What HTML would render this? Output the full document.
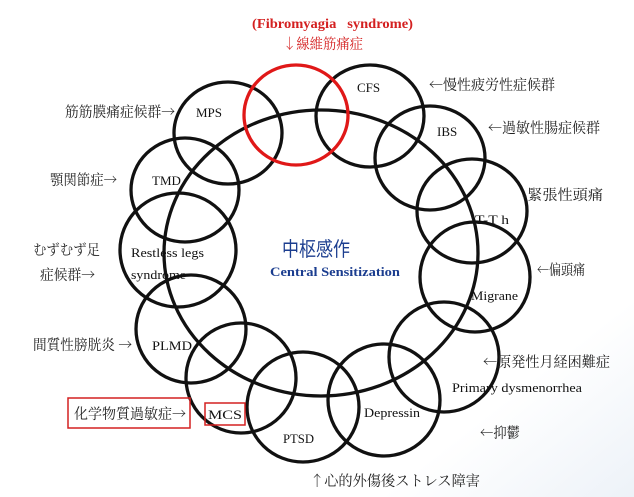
<!DOCTYPE html>
<html><head><meta charset="utf-8"><style>
html,body{margin:0;padding:0;background:#fff;}
svg{display:block;}
.j{font-family:"Noto Serif CJK SC","Noto Sans CJK JP",serif;font-size:14.5px;fill:#222;}
.e{font-family:"Liberation Serif",serif;font-size:13px;fill:#111;}
</style></head><body>
<svg width="634" height="497" viewBox="0 0 634 497" xmlns="http://www.w3.org/2000/svg">
<defs><linearGradient id="bg" x1="0" y1="0" x2="1" y2="1"><stop offset="0.8" stop-color="#fff"/><stop offset="1" stop-color="#edf2f8"/></linearGradient></defs>
<rect width="634" height="497" fill="url(#bg)"/>
<g fill="none" stroke="#111" stroke-width="3.3">
<ellipse cx="321" cy="253" rx="157" ry="143"/>
<ellipse cx="228" cy="133" rx="54" ry="51"/>
<ellipse cx="370" cy="116" rx="54" ry="51"/>
<ellipse cx="430" cy="158" rx="55" ry="52"/>
<ellipse cx="472" cy="211" rx="55" ry="52"/>
<ellipse cx="475" cy="277" rx="55" ry="55"/>
<ellipse cx="444" cy="357" rx="55" ry="55"/>
<ellipse cx="384" cy="400" rx="56" ry="56"/>
<ellipse cx="303" cy="407" rx="56" ry="55"/>
<ellipse cx="241" cy="378" rx="55" ry="55"/>
<ellipse cx="191" cy="329" rx="55" ry="54"/>
<ellipse cx="178" cy="250" rx="58" ry="57"/>
<ellipse cx="185" cy="190" rx="54" ry="52"/>
<ellipse cx="296" cy="115" rx="52" ry="50" stroke="#e01818"/>
</g>
<text x="252" y="28" font-family="Liberation Serif,serif" font-weight="bold" font-size="13.5" fill="#d42020" textLength="161" lengthAdjust="spacingAndGlyphs">(Fibromyagia&#160;&#160;&#160;syndrome)</text>
<g lengthAdjust="spacingAndGlyphs">
<text x="283" y="49" class="j" style="fill:#d42020" textLength="80" lengthAdjust="spacingAndGlyphs">↓線維筋痛症</text>
<text x="429" y="90" class="j" textLength="126" lengthAdjust="spacingAndGlyphs">←慢性疲労性症候群</text>
<text x="488" y="133" class="j" textLength="112" lengthAdjust="spacingAndGlyphs">←過敏性腸症候群</text>
<text x="522" y="200" class="j" textLength="81" lengthAdjust="spacingAndGlyphs">-緊張性頭痛</text>
<text x="537" y="275" class="j" textLength="48" lengthAdjust="spacingAndGlyphs">←偏頭痛</text>
<text x="483" y="367" class="j" textLength="127" lengthAdjust="spacingAndGlyphs">←原発性月経困難症</text>
<text x="480" y="438" class="j" textLength="40" lengthAdjust="spacingAndGlyphs">←抑鬱</text>
<text x="310" y="486" class="j" textLength="170" lengthAdjust="spacingAndGlyphs">↑心的外傷後ストレス障害</text>
<text x="65" y="117" class="j" textLength="110" lengthAdjust="spacingAndGlyphs">筋筋膜痛症候群→</text>
<text x="50" y="185" class="j" textLength="67" lengthAdjust="spacingAndGlyphs">顎関節症→</text>
<text x="33" y="255" class="j" textLength="67" lengthAdjust="spacingAndGlyphs">むずむず足</text>
<text x="40" y="280" class="j" textLength="55" lengthAdjust="spacingAndGlyphs">症候群→</text>
<text x="33" y="350" class="j" textLength="99" lengthAdjust="spacingAndGlyphs">間質性膀胱炎 →</text>
</g>
<rect x="68" y="398" width="122" height="30" fill="none" stroke="#d42020" stroke-width="1.5"/>
<text x="74" y="419" class="j" textLength="112" lengthAdjust="spacingAndGlyphs">化学物質過敏症→</text>
<rect x="205" y="403" width="40" height="22" fill="none" stroke="#d42020" stroke-width="1.5"/>
<text x="208" y="419" class="e" textLength="34" lengthAdjust="spacingAndGlyphs">MCS</text>
<text x="196" y="117" class="e">MPS</text>
<text x="357" y="92" class="e">CFS</text>
<text x="437" y="136" class="e">IBS</text>
<text x="152" y="185" class="e">TMD</text>
<text x="475" y="224" class="e" textLength="34" lengthAdjust="spacingAndGlyphs">T-T h</text>
<text x="131" y="257" class="e" textLength="73" lengthAdjust="spacingAndGlyphs">Restless legs</text>
<text x="131" y="279" class="e" textLength="55" lengthAdjust="spacingAndGlyphs">syndrome</text>
<text x="471" y="300" class="e" textLength="47" lengthAdjust="spacingAndGlyphs">Migrane</text>
<text x="152" y="350" class="e" textLength="40" lengthAdjust="spacingAndGlyphs">PLMD</text>
<text x="452" y="392" class="e" textLength="130" lengthAdjust="spacingAndGlyphs">Primary dysmenorrhea</text>
<text x="364" y="417" class="e" textLength="56" lengthAdjust="spacingAndGlyphs">Depressin</text>
<text x="283" y="443" class="e" textLength="31" lengthAdjust="spacingAndGlyphs">PTSD</text>
<text x="282" y="256" font-family="Noto Sans CJK JP,sans-serif" font-size="20" fill="#1b3d8f" textLength="68" lengthAdjust="spacingAndGlyphs">中枢感作</text>
<text x="270" y="276" font-family="Liberation Serif,serif" font-weight="bold" font-size="12.5" fill="#1b3d8f" textLength="130" lengthAdjust="spacingAndGlyphs">Central Sensitization</text>
</svg>
</body></html>
